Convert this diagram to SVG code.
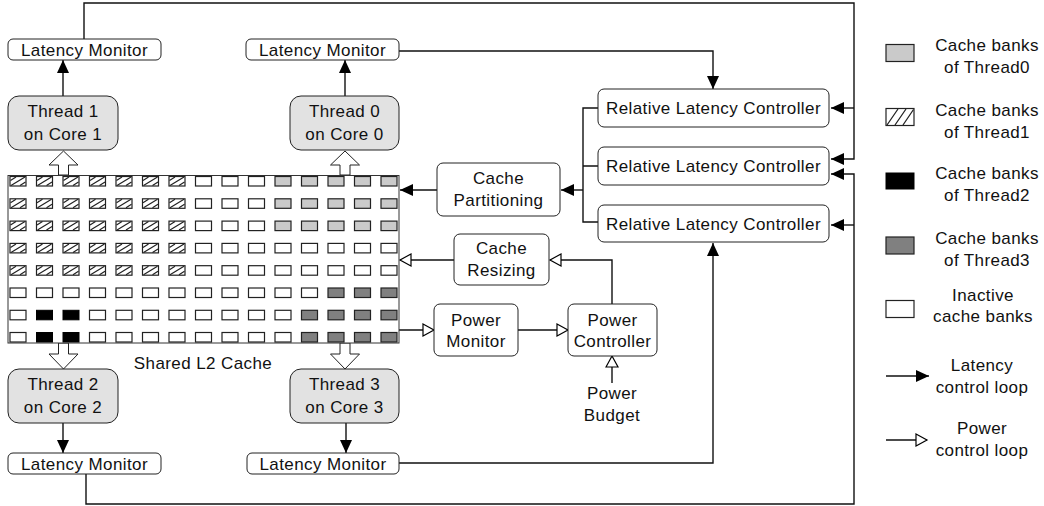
<svg xmlns="http://www.w3.org/2000/svg" xmlns:xlink="http://www.w3.org/1999/xlink" width="1044" height="506" viewBox="0 0 1044 506">
<style>
text{font-family:"Liberation Sans",Arial,sans-serif;font-size:17px;fill:#111;text-anchor:middle;letter-spacing:0.4px}
.box{fill:#fff;stroke:#222;stroke-width:1}
.thr{fill:#e2e2e2;stroke:#222;stroke-width:1}
.ln{fill:none;stroke:#111;stroke-width:1.4}
.lat{marker-end:url(#af)}
.pow{marker-end:url(#ah)}
.blk{fill:#fff;stroke:#222;stroke-width:1}
.c{stroke:#222;stroke-width:1.2}
</style>
<defs>
<marker id="af" markerUnits="userSpaceOnUse" markerWidth="14" markerHeight="12" refX="13" refY="6" orient="auto"><path d="M0,0 L13,6 L0,12 z" fill="#000"/></marker>
<marker id="ah" markerUnits="userSpaceOnUse" markerWidth="14" markerHeight="14" refX="12" refY="7" orient="auto"><path d="M1,1 L12,7 L1,13 z" fill="#fff" stroke="#000" stroke-width="1.2"/></marker>
<g id="cw"><rect class="c" width="16" height="9.5" fill="#fff"/></g>
<g id="cl"><rect class="c" width="16" height="9.5" fill="#cacaca"/></g>
<g id="cd"><rect class="c" width="16" height="9.5" fill="#808080"/></g>
<g id="cb"><rect width="16" height="9.5" fill="#000" stroke="#000"/></g>
<g id="ch"><rect class="c" width="16" height="9.5" fill="#fff"/><path d="M1,9 L15,0.5 M0.5,4 L6,0.5 M10,9 L15.5,5.5" stroke="#222" stroke-width="1.2" fill="none"/></g>
</defs>

<g id="connectors">
<path class="ln lat" d="M84,39 V3 H854 V159 H831"/>
<path class="ln lat" d="M854,108 H831"/>
<path class="ln lat" d="M86,474 V504 H854 V174 H831"/>
<path class="ln lat" d="M854,225 H831"/>
<path class="ln lat" d="M399,51 H713 V89"/>
<path class="ln lat" d="M399,463 H713 V243"/>
<path class="ln" d="M598,108 H583 V222 H598 M583,166 H598"/>
<path class="ln lat" d="M583,190 H561"/>
<path class="ln lat" d="M437,190 H400"/>
<path class="ln pow" d="M454,260 H400"/>
<path class="ln pow" d="M612,304 V260 H550"/>
<path class="ln pow" d="M399,330 H434"/>
<path class="ln pow" d="M518,330 H568"/>
<path class="ln pow" d="M612,383 V356"/>
<path class="ln lat" d="M63,96 V60"/>
<path class="ln lat" d="M345,96 V60"/>
<path class="ln lat" d="M63,423 V453"/>
<path class="ln lat" d="M346,423 V453"/>
<polygon class="blk" points="58.5,175 58.5,165 49,165 63.5,151 78,165 68.5,165 68.5,175"/>
<polygon class="blk" points="340,175 340,165 330.5,165 345,151 359.5,165 350,165 350,175"/>
<polygon class="blk" points="58.5,343 58.5,354 49,354 63.5,369 78,354 68.5,354 68.5,343"/>
<polygon class="blk" points="340,343 340,354 330.5,354 345,369 359.5,354 350,354 350,343"/>
</g>

<g id="cache">
<rect x="8" y="175.5" width="391" height="167.5" fill="#fff" stroke="#333" stroke-width="1"/>
<g id="row1" transform="translate(0,176.5)">
<use href="#ch" x="10"/><use href="#ch" x="36.5"/><use href="#ch" x="63"/><use href="#ch" x="89.5"/><use href="#ch" x="116"/><use href="#ch" x="142.5"/><use href="#ch" x="169"/><use href="#cw" x="195.5"/><use href="#cw" x="222"/><use href="#cw" x="248.5"/><use href="#cl" x="275"/><use href="#cl" x="301.5"/><use href="#cl" x="328"/><use href="#cl" x="354.5"/><use href="#cl" x="381"/>
</g>
<g id="row2" transform="translate(0,198.8)">
<use href="#ch" x="10"/><use href="#ch" x="36.5"/><use href="#ch" x="63"/><use href="#ch" x="89.5"/><use href="#ch" x="116"/><use href="#ch" x="142.5"/><use href="#ch" x="169"/><use href="#cw" x="195.5"/><use href="#cw" x="222"/><use href="#cw" x="248.5"/><use href="#cl" x="275"/><use href="#cl" x="301.5"/><use href="#cl" x="328"/><use href="#cl" x="354.5"/><use href="#cl" x="381"/>
</g>
<g id="row3" transform="translate(0,221.1)">
<use href="#ch" x="10"/><use href="#ch" x="36.5"/><use href="#ch" x="63"/><use href="#ch" x="89.5"/><use href="#ch" x="116"/><use href="#ch" x="142.5"/><use href="#ch" x="169"/><use href="#cw" x="195.5"/><use href="#cw" x="222"/><use href="#cw" x="248.5"/><use href="#cl" x="275"/><use href="#cl" x="301.5"/><use href="#cl" x="328"/><use href="#cl" x="354.5"/><use href="#cl" x="381"/>
</g>
<g id="row4" transform="translate(0,243.4)">
<use href="#ch" x="10"/><use href="#ch" x="36.5"/><use href="#ch" x="63"/><use href="#ch" x="89.5"/><use href="#ch" x="116"/><use href="#ch" x="142.5"/><use href="#ch" x="169"/><use href="#cw" x="195.5"/><use href="#cw" x="222"/><use href="#cw" x="248.5"/><use href="#cw" x="275"/><use href="#cw" x="301.5"/><use href="#cw" x="328"/><use href="#cw" x="354.5"/><use href="#cw" x="381"/>
</g>
<g id="row5" transform="translate(0,265.7)">
<use href="#ch" x="10"/><use href="#ch" x="36.5"/><use href="#ch" x="63"/><use href="#ch" x="89.5"/><use href="#ch" x="116"/><use href="#ch" x="142.5"/><use href="#ch" x="169"/><use href="#cw" x="195.5"/><use href="#cw" x="222"/><use href="#cw" x="248.5"/><use href="#cw" x="275"/><use href="#cw" x="301.5"/><use href="#cw" x="328"/><use href="#cw" x="354.5"/><use href="#cw" x="381"/>
</g>
<g id="row6" transform="translate(0,288)">
<use href="#cw" x="10"/><use href="#cw" x="36.5"/><use href="#cw" x="63"/><use href="#cw" x="89.5"/><use href="#cw" x="116"/><use href="#cw" x="142.5"/><use href="#cw" x="169"/><use href="#cw" x="195.5"/><use href="#cw" x="222"/><use href="#cw" x="248.5"/><use href="#cw" x="275"/><use href="#cw" x="301.5"/><use href="#cd" x="328"/><use href="#cd" x="354.5"/><use href="#cd" x="381"/>
</g>
<g id="row7" transform="translate(0,310.3)">
<use href="#cw" x="10"/><use href="#cb" x="36.5"/><use href="#cb" x="63"/><use href="#cw" x="89.5"/><use href="#cw" x="116"/><use href="#cw" x="142.5"/><use href="#cw" x="169"/><use href="#cw" x="195.5"/><use href="#cw" x="222"/><use href="#cw" x="248.5"/><use href="#cw" x="275"/><use href="#cd" x="301.5"/><use href="#cd" x="328"/><use href="#cd" x="354.5"/><use href="#cd" x="381"/>
</g>
<g id="row8" transform="translate(0,332.5)">
<use href="#cw" x="10"/><use href="#cb" x="36.5"/><use href="#cb" x="63"/><use href="#cw" x="89.5"/><use href="#cw" x="116"/><use href="#cw" x="142.5"/><use href="#cw" x="169"/><use href="#cw" x="195.5"/><use href="#cw" x="222"/><use href="#cw" x="248.5"/><use href="#cw" x="275"/><use href="#cd" x="301.5"/><use href="#cd" x="328"/><use href="#cd" x="354.5"/><use href="#cd" x="381"/>
</g>
<text x="203" y="369">Shared L2 Cache</text>
</g>

<g id="lm-t1"><rect class="box" x="8" y="39" width="153" height="21" rx="5"/><text x="84.5" y="55.5">Latency Monitor</text></g>
<g id="lm-t0"><rect class="box" x="246" y="39" width="153" height="21" rx="5"/><text x="322.5" y="55.5">Latency Monitor</text></g>
<g id="thread1"><rect class="thr" x="8" y="96" width="110" height="54" rx="11"/><text x="63" y="117">Thread 1</text><text x="63" y="140">on Core 1</text></g>
<g id="thread0"><rect class="thr" x="290" y="96" width="109" height="54" rx="11"/><text x="344.5" y="117">Thread 0</text><text x="344.5" y="140">on Core 0</text></g>
<g id="thread2"><rect class="thr" x="8" y="369" width="110" height="54" rx="11"/><text x="63" y="390">Thread 2</text><text x="63" y="413">on Core 2</text></g>
<g id="thread3"><rect class="thr" x="290" y="369" width="109" height="54" rx="11"/><text x="344.5" y="390">Thread 3</text><text x="344.5" y="413">on Core 3</text></g>
<g id="lm-t2"><rect class="box" x="8" y="453" width="153" height="21" rx="5"/><text x="84.5" y="469.5">Latency Monitor</text></g>
<g id="lm-t3"><rect class="box" x="247" y="453" width="152" height="21" rx="5"/><text x="323" y="469.5">Latency Monitor</text></g>

<g id="rlc1"><rect class="box" x="598" y="89" width="231" height="38" rx="6"/><text x="713.5" y="114">Relative Latency Controller</text></g>
<g id="rlc2"><rect class="box" x="598" y="147" width="231" height="38" rx="6"/><text x="713.5" y="172">Relative Latency Controller</text></g>
<g id="rlc3"><rect class="box" x="598" y="205" width="231" height="37" rx="6"/><text x="713.5" y="229.5">Relative Latency Controller</text></g>
<g id="cache-partitioning"><rect class="box" x="437" y="163" width="123" height="53" rx="6"/><text x="498.5" y="184">Cache</text><text x="498.5" y="206">Partitioning</text></g>
<g id="cache-resizing"><rect class="box" x="454" y="234" width="95" height="51" rx="6"/><text x="501.5" y="254">Cache</text><text x="501.5" y="276">Resizing</text></g>
<g id="power-monitor"><rect class="box" x="434" y="304" width="84" height="52" rx="6"/><text x="476" y="326">Power</text><text x="476" y="347">Monitor</text></g>
<g id="power-controller"><rect class="box" x="568" y="304" width="89" height="52" rx="6"/><text x="612.5" y="326">Power</text><text x="612.5" y="347">Controller</text></g>
<g id="power-budget"><text x="612" y="399">Power</text><text x="612" y="421">Budget</text></g>

<g id="legend">
<rect class="c" x="886" y="44.5" width="28" height="17" fill="#cacaca"/>
<text x="987" y="51">Cache banks</text><text x="987" y="73">of Thread0</text>
<rect class="c" x="886" y="108.5" width="28" height="17" fill="#fff"/>
<path d="M887,125 L898,109 M895,125 L906,109 M903,125 L913.5,109.5" stroke="#222" stroke-width="1.3"/>
<text x="987" y="116">Cache banks</text><text x="987" y="138">of Thread1</text>
<rect x="886" y="173" width="28" height="16" fill="#000" stroke="#000"/>
<text x="987" y="179">Cache banks</text><text x="987" y="201">of Thread2</text>
<rect class="c" x="886" y="237" width="28" height="17" fill="#808080"/>
<text x="987" y="244">Cache banks</text><text x="987" y="266">of Thread3</text>
<rect class="c" x="886" y="300.5" width="28" height="17" fill="#fff"/>
<text x="983" y="301">Inactive</text><text x="983" y="322">cache banks</text>
<path class="ln lat" d="M886,376 H929"/>
<text x="982" y="371">Latency</text><text x="982" y="393">control loop</text>
<path class="ln pow" d="M886,440 H927"/>
<text x="982" y="434">Power</text><text x="982" y="456">control loop</text>
</g>
</svg>
